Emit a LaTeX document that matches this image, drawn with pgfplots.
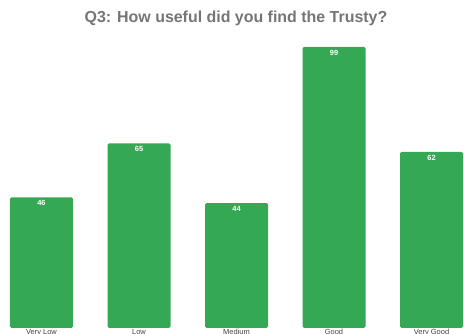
\documentclass[border=0pt]{standalone}
\usepackage{pgfplots}
\pgfplotsset{compat=1.18}
\usepackage{fontspec}
\setmainfont{Liberation Sans}
\definecolor{bargreen}{HTML}{34A853}
\definecolor{titlegray}{HTML}{757575}
\definecolor{labgray}{HTML}{444444}
\begin{document}
\begin{tikzpicture}[x=1bp,y=1bp]
\path[use as bounding box] (0,0) rectangle (464,333);
\node[font=\bfseries\fontsize{16}{18}\selectfont, text=titlegray] at (236,315) {Q3: How useful did you find the Trusty?};
\begin{axis}[
  at={(0,18)}, anchor=south west,
  scale only axis, width=464bp, height=281bp,
  xmin=-0.4256, xmax=4.3333, ymin=0, ymax=99,
  axis line style={draw=none},
  major tick length=0pt,
  clip=false,
  xtick=data,
  xticklabels={Very Low,Low,Medium,Good,Very Good},
  ytick=\empty,
  ybar, bar width=63bp,
  /pgf/number format/assume math mode=true,
  xticklabel style={font=\fontsize{7.5}{8}\selectfont, text=labgray, anchor=north, inner sep=0pt, yshift=-1bp},
  nodes near coords,
  every node near coord/.append style={font=\bfseries\fontsize{7.5}{8}\selectfont, text=white, anchor=north, yshift=-3bp, inner sep=0pt},
]
\addplot[fill=bargreen, draw=none, rounded corners=1.5bp] coordinates {(0,46) (1,65) (2,44) (3,99) (4,62)};
\end{axis}
\end{tikzpicture}
\end{document}
